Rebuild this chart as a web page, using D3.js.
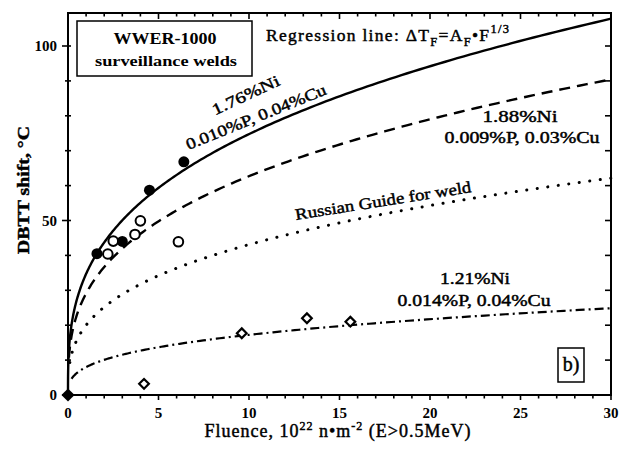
<!DOCTYPE html>
<html>
<head>
<meta charset="utf-8">
<script src="https://cdn.jsdelivr.net/npm/d3@7"></script>
<style>
  html, body { margin: 0; padding: 0; background: #fff; }
  svg { display: block; }
  text { font-family: "Liberation Serif", "Times New Roman", serif; fill: #000; }
  .ink { stroke: #000; stroke-width: 0.45px; }
</style>
</head>
<body>
<svg id="chart" width="632" height="454"></svg>
<script>
// Axis ticks
const xTickLabels = [0, 5, 10, 15, 20, 25, 30];
const yTickLabels = [0, 50, 100];

// Surveillance weld measurements: fluence (10^22 n/m^2) and DBTT shift (°C)
const ni176Fluence = [1.6, 3.0, 4.5, 6.4];
const ni176Shift   = [40.5, 44.0, 58.7, 66.8];
const ni188Fluence = [2.2, 2.5, 3.7, 4.0, 6.1];
const ni188Shift   = [40.4, 44.1, 46.0, 49.9, 43.9];
const ni121Fluence = [4.2, 9.6, 13.2, 15.6];
const ni121Shift   = [3.2, 17.7, 22.0, 21.0];
const originFluence = [0];
const originShift   = [0];

// Regression lines ΔT_F = A_F · F^(1/3)
const curveNames = ["1.76%Ni", "1.88%Ni", "Russian Guide", "1.21%Ni"];
const curveAF    = [34.7, 29.1, 20.0, 8.0];
const curveStart = [0, 0.05, 0.1, 0.2];

const svg = d3.select("#chart");
const L = 68, R = 611, T = 13, B = 395;
const x = d3.scaleLinear().domain([0, 30]).range([L, R]);
const y = d3.scaleLinear().domain([0, 100]).range([B, B - 349]);

// Frame
svg.append("rect").attr("x", L).attr("y", T).attr("width", R - L).attr("height", B - T)
  .attr("fill", "none").attr("stroke", "#000").attr("stroke-width", 2);

// Ticks
const g = svg.append("g").attr("stroke", "#000").attr("stroke-width", 1.6);
d3.range(0, 31).forEach(v => {
  const major = v % 5 === 0;
  g.append("line").attr("x1", x(v)).attr("x2", x(v)).attr("y1", B).attr("y2", B + (major ? 5 : 3.5));
  g.append("line").attr("x1", x(v)).attr("x2", x(v)).attr("y1", T).attr("y2", T + (major ? 6 : 3.5));
});
d3.range(0, 110, 10).forEach(v => {
  const major = v % 50 === 0;
  g.append("line").attr("x1", major ? L - 6 : L - 3).attr("x2", L + 3).attr("y1", y(v)).attr("y2", y(v));
  g.append("line").attr("x1", R).attr("x2", R - 6).attr("y1", y(v)).attr("y2", y(v));
});

// Tick labels
svg.append("g").selectAll("text").data(xTickLabels).join("text")
  .attr("x", d => x(d)).attr("y", 418).attr("text-anchor", "middle")
  .attr("font-size", 15).attr("font-weight", "bold").text(d => d);
svg.append("g").selectAll("text").data(yTickLabels).join("text")
  .attr("x", 57).attr("y", d => y(d) + 5).attr("text-anchor", "end")
  .attr("font-size", 15).attr("font-weight", "bold").text(d => d);

// Axis titles
const xt = svg.append("text").attr("class", "ink").attr("x", 338).attr("y", 437).attr("text-anchor", "middle")
  .attr("font-size", 18).attr("letter-spacing", 1.0);
xt.append("tspan").text("Fluence,  10");
xt.append("tspan").attr("font-size", 12).attr("dy", -7).text("22");
xt.append("tspan").attr("dy", 7).text(" n\u2022m");
xt.append("tspan").attr("font-size", 12).attr("dy", -7).text("-2");
xt.append("tspan").attr("dy", 7).text(" (E>0.5MeV)");

svg.append("text").attr("class", "ink").attr("transform", "translate(29,190) rotate(-90)")
  .attr("text-anchor", "middle").attr("font-size", 17).attr("font-weight", "bold")
  .attr("textLength", 128).attr("lengthAdjust", "spacingAndGlyphs")
  .text("DBTT shift,  \u00B0C");

// Regression curves
const lineStyles = [
  { dash: null, width: 2.4, cap: "butt" },
  { dash: "11,7", width: 2.4, cap: "butt" },
  { dash: "0.1,10.5", width: 3, cap: "round" },
  { dash: "9,4,2,4", width: 2.2, cap: "butt" }
];
const line = d3.line().x(d => x(d[0])).y(d => y(d[1]));
curveAF.forEach((a, i) => {
  const f0 = curveStart[i];
  const pts = d3.range(0, 1.0001, 0.005).map(t => {
    const f = f0 + (30 - f0) * t * t * t;
    return [f, a * Math.cbrt(f)];
  });
  svg.append("path").datum(pts).attr("d", line)
    .attr("fill", "none").attr("stroke", "#000")
    .attr("stroke-width", lineStyles[i].width)
    .attr("stroke-linecap", lineStyles[i].cap)
    .attr("stroke-dasharray", lineStyles[i].dash);
});

// Data points
svg.append("g").selectAll("circle").data(d3.zip(ni176Fluence, ni176Shift)).join("circle")
  .attr("cx", d => x(d[0])).attr("cy", d => y(d[1])).attr("r", 5.5).attr("fill", "#000");
svg.append("g").selectAll("circle").data(d3.zip(ni188Fluence, ni188Shift)).join("circle")
  .attr("cx", d => x(d[0])).attr("cy", d => y(d[1])).attr("r", 4.8)
  .attr("fill", "#fff").attr("stroke", "#000").attr("stroke-width", 2);
const diamond = d3.symbol().type(d3.symbolDiamond2).size(60);
svg.append("g").selectAll("path").data(d3.zip(ni121Fluence, ni121Shift)).join("path")
  .attr("transform", d => `translate(${x(d[0])},${y(d[1])})`)
  .attr("d", diamond).attr("fill", "#fff").attr("stroke", "#000").attr("stroke-width", 2.2);
svg.append("g").selectAll("path").data(d3.zip(originFluence, originShift)).join("path")
  .attr("transform", d => `translate(${x(d[0])},${y(d[1])})`)
  .attr("d", d3.symbol().type(d3.symbolDiamond2).size(110)).attr("fill", "#000");

// Legend box
svg.append("rect").attr("x", 77).attr("y", 21).attr("width", 175).attr("height", 55)
  .attr("fill", "#fff").attr("stroke", "#000").attr("stroke-width", 1.5);
svg.append("text").attr("x", 165).attr("y", 44).attr("text-anchor", "middle")
  .attr("font-size", 16).attr("font-weight", "bold")
  .attr("textLength", 103).attr("lengthAdjust", "spacingAndGlyphs").text("WWER-1000");
svg.append("text").attr("x", 166).attr("y", 66).attr("text-anchor", "middle")
  .attr("font-size", 15).attr("font-weight", "bold")
  .attr("textLength", 142).attr("lengthAdjust", "spacingAndGlyphs").text("surveillance welds");

// Regression formula
const rt = svg.append("text").attr("class", "ink").attr("x", 266).attr("y", 41)
  .attr("font-size", 17.5).attr("letter-spacing", 1.3);
rt.append("tspan").text("Regression line: \u0394T");
rt.append("tspan").attr("font-size", 12.5).attr("dy", 5).text("F");
rt.append("tspan").attr("dy", -5).text("=A");
rt.append("tspan").attr("font-size", 12.5).attr("dy", 5).text("F");
rt.append("tspan").attr("dy", -5).text("\u2022F");
rt.append("tspan").attr("font-size", 12.5).attr("dy", -8).text("1/3");

// Curve labels
function label(txt, cx, cy, ang, w, size) {
  svg.append("text").attr("class", "ink").attr("transform", `translate(${cx},${cy}) rotate(${ang})`)
    .attr("text-anchor", "middle").attr("font-size", size || 16)
    .attr("textLength", w).attr("lengthAdjust", "spacingAndGlyphs").text(txt);
}
label("1.76%Ni", 248, 100, -25, 73);
label("0.010%P, 0.04%Cu", 258, 122, -22, 150);
label("1.88%Ni", 520, 122, 0, 75);
label("0.009%P, 0.03%Cu", 522, 143, 0, 155);
label("Russian Guide for weld", 384, 206, -9, 178);
label("1.21%Ni", 475, 284, 0, 70);
label("0.014%P, 0.04%Cu", 474, 306, 0, 153);

// Panel tag
svg.append("rect").attr("x", 558).attr("y", 348).attr("width", 26).attr("height", 34)
  .attr("fill", "none").attr("stroke", "#000").attr("stroke-width", 1.5);
svg.append("text").attr("class", "ink").attr("x", 571).attr("y", 371).attr("text-anchor", "middle")
  .attr("font-size", 20).text("b)");
</script>
</body>
</html>
